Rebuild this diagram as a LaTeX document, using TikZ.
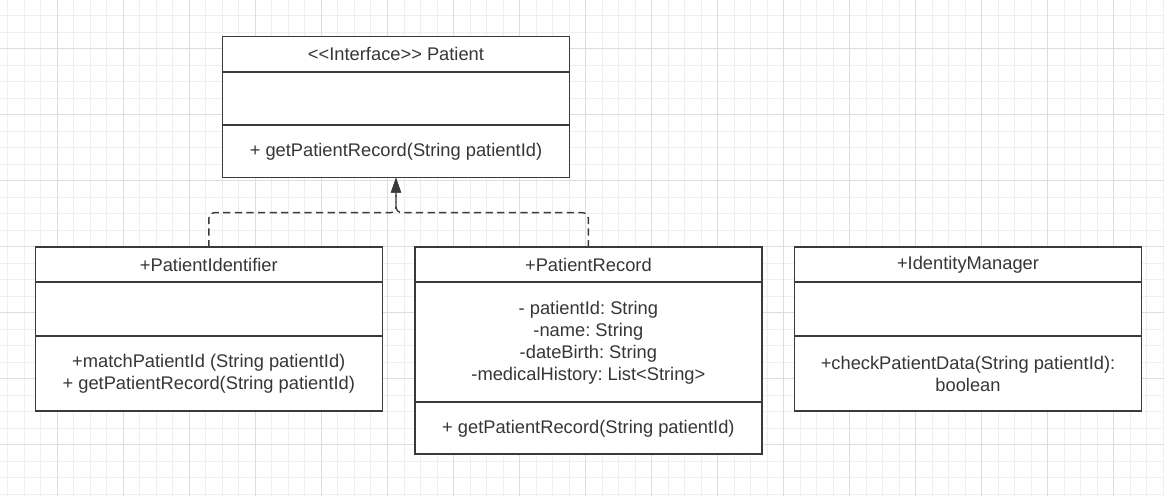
\documentclass[tikz,border=0pt]{standalone}
\usepackage{fontspec}
\setmainfont{Liberation Sans}
\usetikzlibrary{arrows.meta,positioning}
\definecolor{umlline}{HTML}{3A3A3A}
\definecolor{umltext}{HTML}{363636}
\definecolor{gridminor}{HTML}{EFEFEF}
\definecolor{gridmajor}{HTML}{DDDDDD}
\tikzset{
    %Define standard arrow tip
    >={Triangle[length=7.5pt,width=5pt]},
    umlbox/.style={
      rectangle,
      draw=umlline, line width=0.8pt,
      fill=white,
      minimum width=173.5pt,
      minimum height=17.5pt,
      inner sep=0pt, outer sep=0pt,
      text=umltext,
      font=\fontsize{9.15}{11}\selectfont\frenchspacing,
      align=center},
    realize/.style={
      draw=umlline, line width=0.7pt,
      dash pattern=on 3.6pt off 2.2pt,
      rounded corners=3pt},
    minorline/.style={draw=gridminor, line width=0.5pt},
    majorline/.style={draw=gridmajor, line width=0.5pt},
}

\begin{document}
\begin{tikzpicture}[x=0.5pt,y=-0.5pt]
    \useasboundingbox [fill=white] (0,0) rectangle (1164,496);
    % grid
    \foreach \i in {0,...,70}
      \draw [minorline] ({7.77+16.51*\i},0) -- ++(0,496);
    \foreach \i in {0,...,29}
      \draw [minorline] (0,{15.7+16.51*\i}) -- ++(1164,0);
    \foreach \i in {0,...,16}
      \draw [majorline] ({57.3+66.04*\i},0) -- ++(0,496);
    \foreach \i in {0,...,6}
      \draw [majorline] (0,{48.7+66.04*\i}) -- ++(1164,0);

    % interface
    \node (patTitle) [umlbox, minimum height=17.65pt] at (396,54.35)
          {<\kern0pt<Interface>\kern0pt> Patient};
    \node (patAttr) [umlbox, minimum height=26.65pt] [below=0pt of patTitle]
          {};
    \node (patOps) [umlbox, minimum height=26.2pt] [below=0pt of patAttr]
          {+ getPatientRecord(String patientId)};

    % classes
    \node (identTitle) [umlbox] at (208.8,264.8)
          {+PatientIdentifier};
    \node (identAttr) [umlbox, minimum height=26.85pt] [below=0pt of identTitle]
          {};
    \node (identOps) [umlbox, minimum height=37.5pt] [below=0pt of identAttr]
          {+matchPatientId (String patientId)\\+ getPatientRecord(String patientId)};

    \node (recTitle) [umlbox] [right=16.3pt of identTitle]
          {+PatientRecord};
    \node (recAttr) [umlbox, minimum height=60pt] [below=0pt of recTitle]
          {- patientId: String\\-name: String\\-dateBirth: String\\-medicalHistory: List<String>};
    \node (recOps) [umlbox, minimum height=26pt] [below=0pt of recAttr]
          {+ getPatientRecord(String patientId)};

    \node (mgrTitle) [umlbox] [right=16.3pt of recTitle]
          {+IdentityManager};
    \node (mgrAttr) [umlbox, minimum height=26.85pt] [below=0pt of mgrTitle]
          {};
    \node (mgrOps) [umlbox, minimum height=37.5pt] [below=0pt of mgrAttr]
          {+checkPatientData(String patientId):\\boolean};

    % realizations
    \draw [realize,->] (identTitle.north) -- ++(0,-34.6) -| (patOps.south);
    \draw [realize,->] (recTitle.north) -- ++(0,-34.6) -| (patOps.south);
\end{tikzpicture}
\end{document}
